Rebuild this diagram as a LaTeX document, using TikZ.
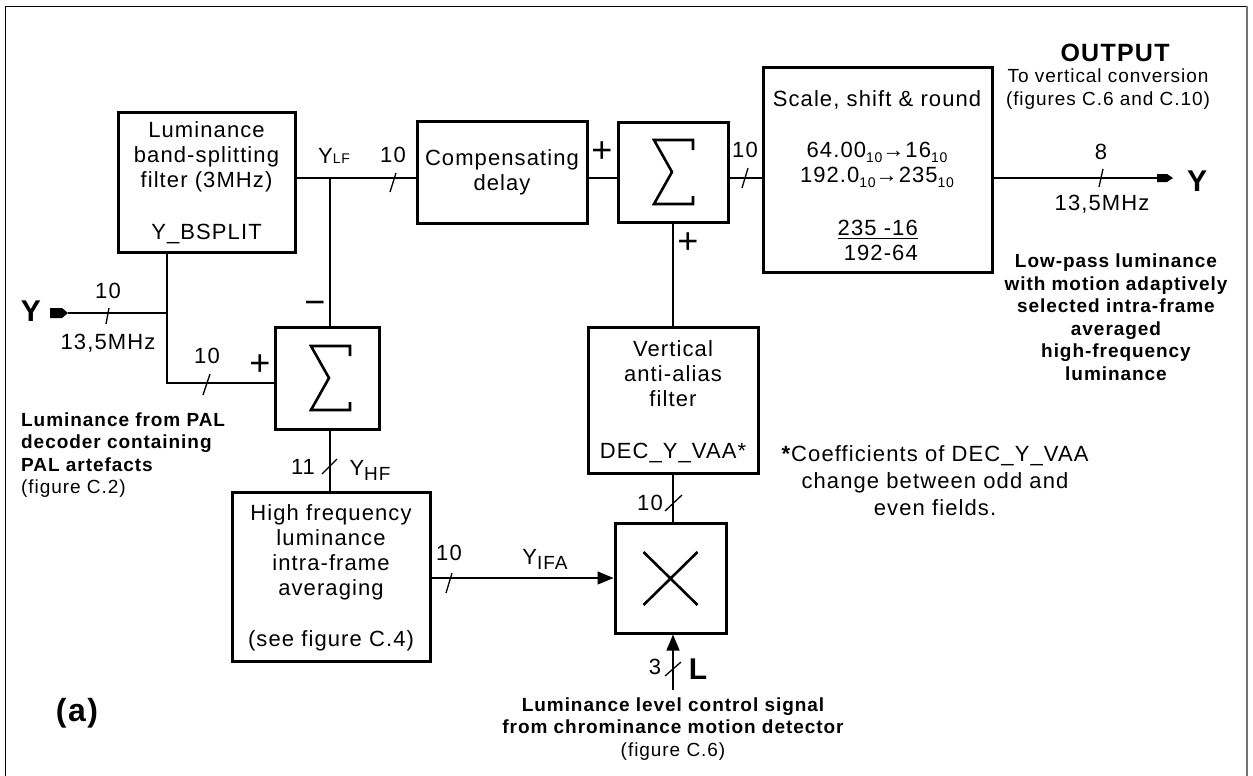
\documentclass[tikz,border=0pt]{standalone}
\usepackage{fontspec}
\setmainfont{Liberation Sans}[LetterSpace=5]
\usetikzlibrary{arrows.meta}
\newcommand\subx[1]{\raisebox{-5pt}{\fontsize{14}{14}\selectfont #1}}
\newcommand\subl[1]{{\fontsize{14}{14}\selectfont #1}}
\newcommand\subh[1]{\raisebox{-5pt}{\fontsize{19}{19}\selectfont #1}}
\begin{document}
\begin{tikzpicture}[x=1pt,y=-1pt,
 blk/.style={draw, line width=3pt, inner sep=0pt},
 wire/.style={line width=1.3pt},
 tx/.style={font=\fontsize{22}{25}\selectfont, align=center, inner sep=0pt},
 sm/.style={font=\fontsize{19}{22.5}\selectfont, align=center, inner sep=0pt},
 bd/.style={font=\bfseries\fontsize{19}{22.5}\selectfont, align=center, inner sep=0pt},
 big/.style={font=\bfseries\fontsize{30}{30}\selectfont, inner sep=0pt},
 sign/.style={font=\fontsize{36}{36}\selectfont, inner sep=0pt},
 glyph/.style={line width=2.6pt, miter limit=10},
 arr/.style={-{Triangle[length=16pt,width=13pt]}},
]
\useasboundingbox (0,0) rectangle (1253,776);
\fill[white] (0,0) rectangle (1253,776);
\draw[line width=1.3pt] (5.5,776) -- (5.5,6.5) -- (1246.5,6.5);
\draw[line width=2pt, black!55] (1246.5,6.5) -- (1246.5,776);

% blocks
\node[blk, minimum width=177pt, minimum height=140pt] (bs) at (206.5,182) {};
\node[blk, minimum width=170pt, minimum height=102pt] (cd) at (502,172) {};
\node[blk, minimum width=110pt, minimum height=100pt] (s2) at (673,172) {};
\node[blk, minimum width=229pt, minimum height=204pt] (sc) at (877.5,170) {};
\node[blk, minimum width=104pt, minimum height=102pt] (s1) at (327,378) {};
\node[blk, minimum width=170pt, minimum height=146pt] (vaa) at (673,400) {};
\node[blk, minimum width=198pt, minimum height=169pt] (hf) at (331,576.5) {};
\node[blk, minimum width=111pt, minimum height=110pt] (mx) at (670.5,578) {};

% block texts
\node[tx] (bst) at (206.5,183) {Luminance\\band-splitting\\filter (3MHz)\\[27pt]Y\_BSPLIT};
\node[tx] (cdt) at (502,172) {Compensating\\delay};
\node[tx] (sct) at (877,99.5) {Scale, shift \& round};
\node[tx] (scf) at (877,164.5) {64.00\subx{10}→16\subx{10}\\192.0\subx{10}→235\subx{10}};
\node[tx, anchor=east] (fnum) at (918,228) {235 -16};
\node[tx, anchor=east] (fden) at (918,253) {192-64};
\draw[wire] (838,238.5) -- (918,238.5);
\node[tx] (hft) at (331,578) {High frequency\\luminance\\intra-frame\\averaging\\[26pt](see figure C.4)};
\node[tx] (vaat) at (673,401.5) {Vertical\\anti-alias\\filter\\[27pt]DEC\_Y\_VAA*};

% sigma and multiply glyphs
\draw[glyph, shift={(s1.center)}, xshift=3pt] (20,-22) -- (20,-32) -- (-19,-32) -- (-1,0) -- (-19,32) -- (20,32) -- (20,24);
\draw[glyph, shift={(s2.center)}] (20,-22) -- (20,-32) -- (-19,-32) -- (-1,0) -- (-19,32) -- (20,32) -- (20,24);
\draw[glyph, shift={(mx.center)}] (-27,-26) -- (27,27) (27,-26) -- (-27,27);

% connectors
\coordinate (yin) at (68,313);
\coordinate (j1) at (167,313);
\coordinate (jb) at (167,383);
\coordinate (jlf) at (330,178);
\coordinate (yout) at (1157,178);
\coordinate (lin) at (673,690);

\draw[wire] (yin) -- (j1);
\draw[wire] (bs.south -| j1) -- (jb) -- (s1.west |- jb);
\draw[wire] (bs.east |- jlf) -- (cd.west |- jlf);
\draw[wire] (jlf) -- (s1.north -| jlf);
\draw[wire] (cd.east |- jlf) -- (s2.west |- jlf);
\draw[wire] (s2.east |- jlf) -- (sc.west |- jlf);
\draw[wire] (sc.east |- jlf) -- (yout);
\draw[wire] (s2.south) -- (vaa.north);
\draw[wire] (vaa.south) -- (mx.north -| vaa.south);
\draw[wire] (s1.south -| jlf) -- (hf.north -| jlf);
\draw[wire, arr] (hf.east |- mx.west) -- (mx.west);
\draw[wire, arr] (lin) -- (mx.south -| lin);

% terminal flags
\fill (50,308) -- (62,308) -- (68,313) -- (62,318) -- (50,318) -- cycle;
\fill (1157,174) -- (1167,174) -- (1173,178) -- (1167,182) -- (1157,182) -- cycle;

% bus slashes
\draw[wire] (106,324) -- (109,308);
\draw[wire] (203,395) -- (210,374);
\draw[wire] (390,192) -- (396,173);
\draw[wire] (742,188) -- (748,168);
\draw[wire] (1099,187) -- (1103,169);
\draw[wire] (446,593) -- (452,573);
\draw[wire] (322,474) -- (337,459);
\draw[wire] (665,511) -- (682,495);
\draw[wire] (665,676) -- (681,662);

% bus labels
\node[tx] (n1) at (108,291) {10};
\node[tx] (f1) at (108,343) {13,5MHz};
\node[tx] (n2) at (207,356) {10};
\node[tx] (n3) at (393,155) {10};
\node[tx] (n4) at (745,150) {10};
\node[tx] (n5) at (1101,152) {8};
\node[tx] (f2) at (1102,204) {13,5MHz};
\node[tx] (n6) at (303,467) {11};
\node[tx] (n7) at (650,503) {10};
\node[tx] (n8) at (449,553) {10};
\node[tx] (n9) at (655,667) {3};

% signal names
\node[tx] (ylf) at (334,156) {Y\subl{LF}};
\node[tx] (yhf) at (370,470) {Y\subh{HF}};
\node[tx] (yifa) at (545,559) {Y\subh{IFA}};

% signs
\node[sign] (p1) at (260,365) {+};
\node[sign] (m1) at (315,308) {−};
\node[sign] (p2) at (602,152) {+};
\node[sign] (p3) at (688,243) {+};

% terminal labels
\node[big] (yinl) at (31,311) {Y};
\node[big] (youtl) at (1197,181) {Y};
\node[big] (ll) at (698,669) {L};
\node[font=\bfseries\fontsize{32}{32}\selectfont, inner sep=0pt] (alab) at (77,713) {(a)};

% annotations
\node[font=\bfseries\fontsize{25}{25}\selectfont, inner sep=0pt] (outt) at (1115,53) {OUTPUT};
\node[sm] (outd) at (1108,89) {To vertical conversion\\(figures C.6 and C.10)};
\node[bd] (lpt) at (1116,317) {Low-pass luminance\\with motion adaptively\\selected intra-frame\\averaged\\high-frequency\\luminance};
\node[bd, align=left, anchor=west] (pal) at (21,455) {Luminance from PAL\\decoder containing\\PAL artefacts\\{\mdseries (figure C.2)}};
\node[bd] (lct) at (673,729) {Luminance level control signal\\from chrominance motion detector\\{\mdseries (figure C.6)}};
\node[tx, font=\fontsize{22}{27}\selectfont] (fn) at (935,481) {\textbf{*}Coefficients of DEC\_Y\_VAA\\change between odd and\\even fields.};
\end{tikzpicture}
\end{document}
